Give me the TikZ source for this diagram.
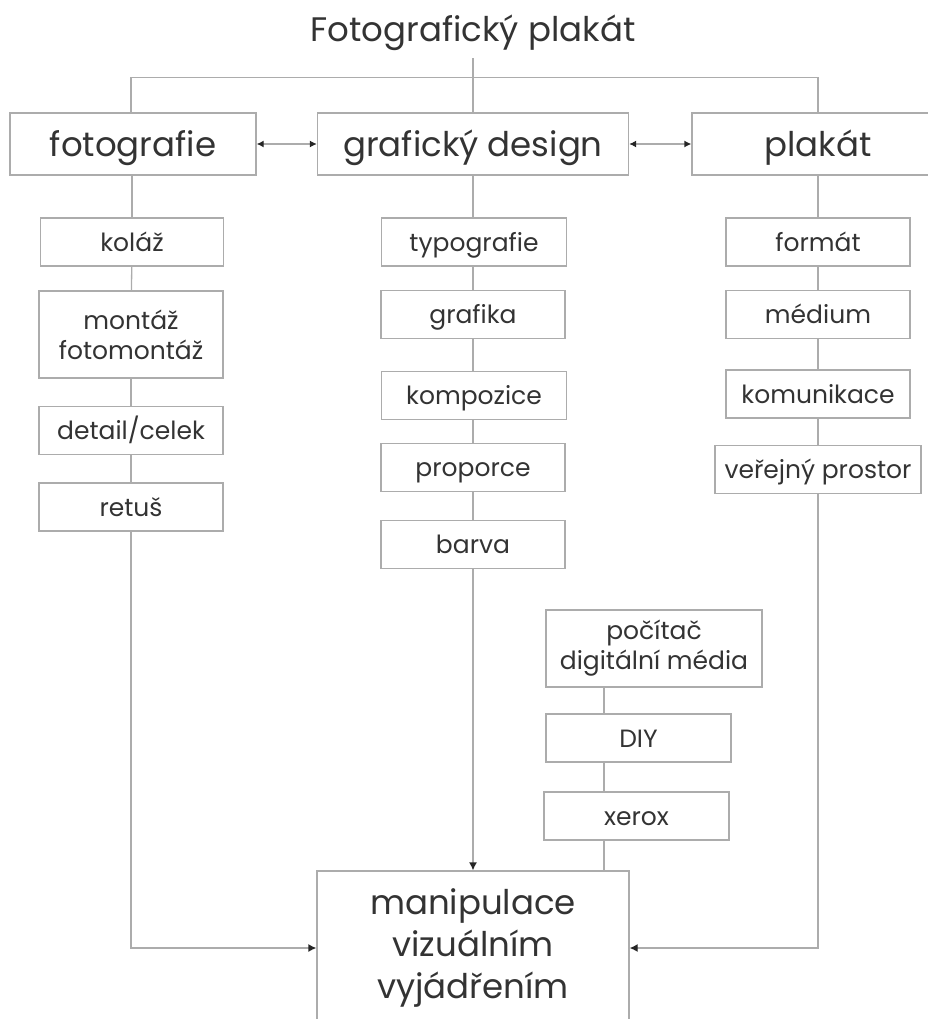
\documentclass[tikz,border=0pt]{standalone}
\usepackage{fontspec}
\setmainfont{Poppins}
\usetikzlibrary{arrows.meta}
\begin{document}
\begin{tikzpicture}[x=1pt,y=-1pt,
    line/.style={draw=gray!65,line width=1.3pt},
    arr/.style={line,-{Latex[length=8pt,width=8pt,color=black!85]}},
    dblarr/.style={line,{Latex[length=7pt,width=7pt,color=black!85]}-{Latex[length=7pt,width=7pt,color=black!85]}},
    topbox/.style={line,text=black!80,font=\fontsize{34}{40}\selectfont,minimum height=62pt,inner sep=0pt,text height=30pt,text depth=5pt},
    item/.style={line,text=black!80,font=\fontsize{25}{30}\selectfont,inner sep=0pt,align=center},
    itembox/.style={item,minimum height=48pt,text height=22pt,text depth=3.5pt}]
  \useasboundingbox (0,0) rectangle (928,1019);
  \node[text=black!80,font=\fontsize{34}{40}\selectfont,minimum height=50pt,inner sep=0pt] (title) at (473,33) {Fotografický plakát};
  \node[topbox,minimum width=246pt] (foto) at (133,144) {fotografie};
  \node[topbox,minimum width=311pt] (graf) at (473,144) {grafický design};
  \node[topbox,minimum width=252pt] (plak) at (818,144) {plakát};
  \draw[line] (title.south) -- (graf.north);
  \draw[line] (foto.north -| 131,0) -- ++(0,-35) -| (plak.north);
  \draw[dblarr] (foto.east) -- (graf.west);
  \draw[dblarr] (graf.east) -- (plak.west);
  \node[itembox,minimum width=183pt] (kolaz) at (132,242) {koláž};
  \node[item,minimum width=184pt,minimum height=87pt] (montaz) at (131,334.5) {montáž\\fotomontáž};
  \node[itembox,minimum width=184pt] (detail) at (131,430.5) {detail/celek};
  \node[itembox,minimum width=184pt] (retus) at (131,507) {retuš};
  \node[itembox,minimum width=185pt] (typo) at (474,242) {typografie};
  \node[itembox,minimum width=184pt] (grafika) at (473,314.5) {grafika};
  \node[itembox,minimum width=185pt] (kompo) at (474,395.5) {kompozice};
  \node[itembox,minimum width=184pt] (propo) at (473,467.5) {proporce};
  \node[itembox,minimum width=184pt] (barva) at (473,544.5) {barva};
  \node[itembox,minimum width=184pt] (format) at (818,242) {formát};
  \node[itembox,minimum width=184pt] (medium) at (818,314.5) {médium};
  \node[itembox,minimum width=184pt] (komun) at (818,394) {komunikace};
  \node[itembox,minimum width=206pt] (verej) at (818,469.5) {veřejný prostor};
  \node[item,minimum width=216pt,minimum height=77pt] (pocitac) at (654,648.5) {počítač\\digitální média};
  \node[itembox,minimum width=185pt] (diy) at (638.5,738) {DIY};
  \node[itembox,minimum width=185pt] (xerox) at (636.5,816) {xerox};
  \node[line,text=black!80,font=\fontsize{34}{42}\selectfont,align=center,minimum width=312pt,minimum height=154pt,inner sep=0pt] (manip) at (473,948) {manipulace\\vizuálním\\vyjádřením};
  \coordinate (dcol) at (604,871);
  \draw[line] (foto.south -| kolaz.north) -- (kolaz.north);
  \draw[line] (kolaz) -- (montaz);
  \draw[line] (montaz) -- (detail);
  \draw[line] (detail) -- (retus);
  \draw[arr] (retus.south) |- (manip.west);
  \draw[line] (graf.south) -- (typo.north -| graf.south);
  \draw[line] (typo.south -| grafika) -- (grafika);
  \draw[line] (grafika) -- (kompo.north -| grafika);
  \draw[line] (kompo.south -| propo) -- (propo);
  \draw[line] (propo) -- (barva);
  \draw[arr] (barva.south) -- (manip.north -| barva.south);
  \draw[line] (plak.south) -- (format.north);
  \draw[line] (format) -- (medium);
  \draw[line] (medium) -- (komun);
  \draw[line] (komun) -- (verej);
  \draw[arr] (verej.south) |- (manip.east);
  \draw[line] (pocitac.south -| dcol) -- (diy.north -| dcol);
  \draw[line] (diy.south -| dcol) -- (xerox.north -| dcol);
  \draw[line] (xerox.south -| dcol) -- (dcol);
\end{tikzpicture}
\end{document}
